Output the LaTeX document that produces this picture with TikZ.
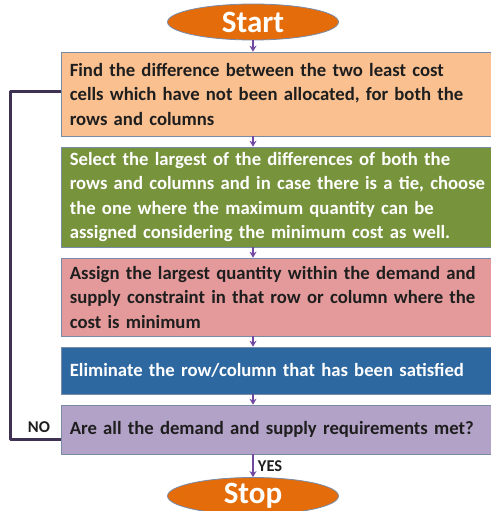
\documentclass[tikz,border=0pt]{standalone}
\usepackage{fontspec}
\setmainfont{Carlito}[WordSpace=0.8]
\usetikzlibrary{shapes.geometric,positioning,arrows.meta,calc}
\definecolor{vamOrange}{RGB}{228,108,10}
\definecolor{vamPeach}{RGB}{250,192,144}
\definecolor{vamGreen}{RGB}{119,147,60}
\definecolor{vamRose}{RGB}{228,154,154}
\definecolor{vamBlue}{RGB}{46,104,160}
\definecolor{vamLilac}{RGB}{179,162,199}
\definecolor{vamEdge}{RGB}{120,140,170}
\definecolor{vamLoop}{RGB}{63,49,81}
\definecolor{vamArrow}{RGB}{112,72,160}
\definecolor{vamText}{RGB}{30,30,30}

\begin{document}
\begin{tikzpicture}[x=1pt,y=-1pt,
    terminal/.style={ellipse,draw=vamEdge,line width=0.8pt,fill=vamOrange,
      minimum width=171pt,minimum height=36pt,inner sep=0pt,
      text=white,font=\bfseries\fontsize{31}{32}\selectfont},
    stepbox/.style={rectangle,draw=vamEdge,line width=0.6pt,anchor=west,
      text width=428pt,inner xsep=8.5pt,inner ysep=0pt,align=left,
      font=\bfseries\fontsize{18.7}{24.5}\selectfont},
    flow/.style={-{Stealth[length=6pt,width=7pt]},vamArrow,line width=1.2pt},
    tag/.style={font=\bfseries\fontsize{16.5}{17}\selectfont,text=vamText}]
    \useasboundingbox (0,0) rectangle (490,511);
    \node[terminal] (start) at (253,22) {Start};
    \node[stepbox,fill=vamPeach,text=vamText,minimum height=84pt] (diff) at (61,94)
      {Find the difference between the two least cost\\
       cells which have not been allocated, for both the\\
       rows and columns};
    \node[stepbox,fill=vamGreen,text=white,minimum height=100pt] (pick) at (61,197)
      {Select the largest of the differences of both the\\
       rows and columns and in case there is a tie, choose\\
       the one where the maximum quantity can be\\
       assigned considering the minimum cost as well.};
    \node[stepbox,fill=vamRose,text=vamText,minimum height=78pt] (assign) at (61,297)
      {Assign the largest quantity within the demand and\\
       supply constraint in that row or column where the\\
       cost is minimum};
    \node[stepbox,fill=vamBlue,text=white,minimum height=47pt] (drop) at (61,370.5)
      {Eliminate the row/column that has been satisfied};
    \node[stepbox,fill=vamLilac,text=vamText,minimum height=49pt] (check) at (61,429.5)
      {Are all the demand and supply requirements met?};
    \node[terminal,minimum height=37pt] (stop) at (253,496) {Stop};
    % arrows down the column
    \draw[flow] (start.south) -- (start.south |- diff.north);
    \draw[flow] (start.south |- diff.south) -- (start.south |- pick.north);
    \draw[flow] (start.south |- pick.south) -- (start.south |- assign.north);
    \draw[flow] (start.south |- assign.south) -- (start.south |- drop.north);
    \draw[flow] (start.south |- drop.south) -- (start.south |- check.north);
    \draw[flow] (start.south |- check.south) -- (stop.north)
      node[tag,midway,right=1pt] {YES};
    % loop back
    \coordinate (back) at (10,270);
    \draw[vamLoop,line width=3pt,line join=round]
      ([yshift=-10pt]check.west) -| (back) |- ([yshift=3pt]diff.west);
    \node[tag,anchor=south] (no) at (39,436) {NO};
\end{tikzpicture}
\end{document}
